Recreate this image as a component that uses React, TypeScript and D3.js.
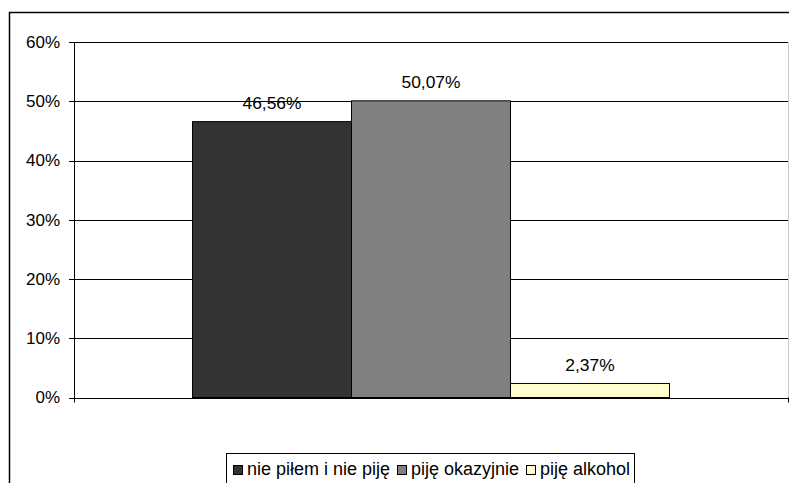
import React from "react";
import * as d3 from "d3";

const seriesNames = ["nie piłem i nie piję", "piję okazyjnie", "piję alkohol"];
const seriesValues = [46.56, 50.07, 2.37];
const seriesColors = ["#333333", "#808080", "#FFFFCC"];
const yTicks = [0, 10, 20, 30, 40, 50, 60];

const W = 789;
const H = 483;
const plot = { left: 74, right: 788, top: 42, bottom: 397.5 };
const font = "'Liberation Sans', Arial, sans-serif";

export default function App() {
  const y = d3.scaleLinear().domain([0, 60]).range([plot.bottom, plot.top]);
  const x0 = d3.scaleBand().domain(["c"]).range([plot.left, plot.right]).paddingInner(0).paddingOuter(0);
  const groupW = x0.bandwidth();
  const barsW = groupW * 0.668;
  const x1 = d3
    .scaleBand()
    .domain(seriesNames)
    .range([plot.left + (groupW - barsW) / 2, plot.left + (groupW + barsW) / 2]);
  const fmt = (v: number) => v.toFixed(2).replace(".", ",") + "%";

  const legendX = [233, 397, 526];
  const legendTextX = [247, 411, 540];

  return (
    <svg
      width={W}
      height={H}
      style={{ position: "absolute", left: 0, top: 0, background: "#fff" }}
      fontFamily={font}
    >
      <rect x={9.5} y={12.5} width={W} height={H} fill="#fff" stroke="#000" strokeWidth={1.5} />
      {yTicks.map((t) => (
        <g key={t}>
          <line x1={plot.left - 5} x2={plot.right} y1={Math.round(y(t)) + 0.5} y2={Math.round(y(t)) + 0.5} stroke="#000" strokeWidth={1} />
          <text x={60} y={y(t)} dy="0.35em" textAnchor="end" fontSize={17} fill="#000">
            {t}%
          </text>
        </g>
      ))}
      <line x1={plot.right + 0.5} x2={plot.right + 0.5} y1={plot.top} y2={plot.bottom} stroke="#ccc" />
      {seriesNames.map((s, i) => (
        <g key={s}>
          <rect
            x={x1(s)!}
            y={y(seriesValues[i])}
            width={x1.bandwidth()}
            height={plot.bottom - y(seriesValues[i])}
            fill={seriesColors[i]}
            stroke="#000"
            strokeWidth={1}
          />
          <text
            x={x1(s)! + x1.bandwidth() / 2}
            y={y(seriesValues[i]) - 18.5}
            dy="0.35em"
            textAnchor="middle"
            fontSize={17.4}
            fill="#000"
          >
            {fmt(seriesValues[i])}
          </text>
        </g>
      ))}
      <line x1={plot.left + 0.5} x2={plot.left + 0.5} y1={plot.top} y2={plot.bottom + 5} stroke="#000" />
      <line x1={plot.left} x2={plot.right} y1={Math.round(plot.bottom) + 0.5} y2={Math.round(plot.bottom) + 0.5} stroke="#000" />
      <line x1={plot.right + 0.5} x2={plot.right + 0.5} y1={plot.bottom} y2={plot.bottom + 5} stroke="#000" />
      <rect x={226.5} y={453.5} width={408} height={40} fill="#fff" stroke="#000" strokeWidth={1} />
      {seriesNames.map((s, i) => (
        <g key={s}>
          <rect x={legendX[i] + 0.5} y={465.5} width={9} height={9} fill={seriesColors[i]} stroke="#000" />
          <text x={legendTextX[i]} y={475} fontSize={18} fill="#000">
            {s}
          </text>
        </g>
      ))}
    </svg>
  );
}
